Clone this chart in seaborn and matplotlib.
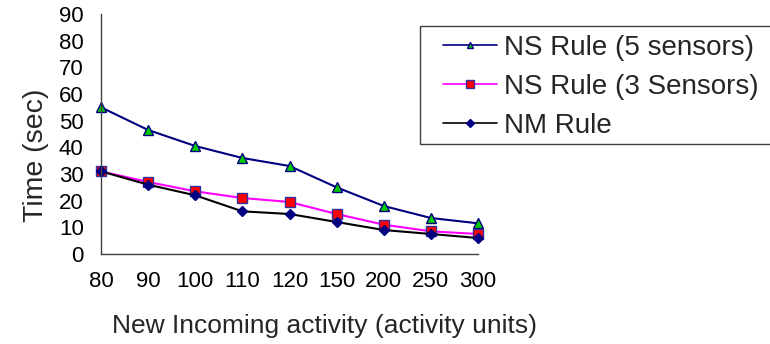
import numpy as np
import pandas as pd
import matplotlib
matplotlib.use("Agg")
import matplotlib.pyplot as plt
from matplotlib.patches import Rectangle
import seaborn as sns

activity = ["80", "90", "100", "110", "120", "150", "200", "250", "300"]
ns5_time = [55, 46.5, 40.5, 36, 33, 25, 18, 13.5, 11.5]
ns3_time = [31, 27, 23.5, 21, 19.5, 15, 11, 8.5, 7.5]
nm_time = [31, 26, 22, 16, 15, 12, 9, 7.5, 6]

series_names = ["NS Rule (5 sensors)", "NS Rule (3 Sensors)", "NM Rule"]

sns.set_style("white")
plt.rcParams["font.family"] = ["Liberation Sans", "DejaVu Sans"]

df = pd.DataFrame({
    "pos": np.arange(len(activity)),
    series_names[0]: ns5_time,
    series_names[1]: ns3_time,
    series_names[2]: nm_time,
})

W, H = 770, 344
fig = plt.figure(figsize=(W / 100, H / 100), dpi=100)
ax = fig.add_axes([101 / W, 1 - 254 / H, (478 - 101) / W, (254 - 14) / H])

styles = [
    dict(color="#000080", marker="^", markerfacecolor="#00cc00", markeredgecolor="#000080", markersize=7),
    dict(color="#ff00ff", marker="s", markerfacecolor="#ff0000", markeredgecolor="#3030a0", markersize=6.5),
    dict(color="black", marker="D", markerfacecolor="#000080", markeredgecolor="#000080", markersize=5),
]

for name, st in zip(series_names, styles):
    sns.lineplot(data=df, x="pos", y=name, ax=ax, label=name, linewidth=1.5,
                 markeredgewidth=1, **st)

ax.set_xlim(0, len(activity) - 1)
ax.set_ylim(0, 90)
ax.set_xticks(df["pos"])
ax.set_xticklabels(activity)
ax.set_yticks(np.arange(0, 91, 10))

for s in ["top", "right"]:
    ax.spines[s].set_visible(False)
for s in ["left", "bottom"]:
    ax.spines[s].set_color("#404040")
    ax.spines[s].set_linewidth(1)
ax.tick_params(axis="both", direction="inout", length=9, width=1, color="#404040",
               labelsize=16, labelcolor="black")
ax.tick_params(axis="x", pad=8)
ax.tick_params(axis="y", pad=8)
for ln in ax.lines:
    ln.set_clip_on(False)

ax.set_xlabel("New Incoming activity (activity units)", fontsize=19)
ax.xaxis.set_label_coords((325 - 101) / 377, (254 - 314) / 240)
ax.set_ylabel("Time (sec)", fontsize=20.5)
ax.yaxis.set_label_coords((49 - 101) / 377, (254 - 155) / 240)

# legend box runs off the right edge in the original
fig.patches.append(Rectangle((420 / W, 1 - 144 / H), 400 / W, 118 / H,
                             transform=fig.transFigure, fill=False,
                             edgecolor="#404040", linewidth=1))
leg = ax.legend(loc="upper left", bbox_to_anchor=(443 / W, 1 - 35 / H),
                bbox_transform=fig.transFigure, fontsize=20, frameon=False,
                borderpad=0, borderaxespad=0, handlelength=1.95,
                handletextpad=0.25, labelspacing=0.46)
for h, ms in zip(leg.legend_handles, [4.5, 5.5, 4]):
    h.set_linewidth(1.2)
    h.set_markersize(ms)

fig.savefig("out.png", dpi=100)
